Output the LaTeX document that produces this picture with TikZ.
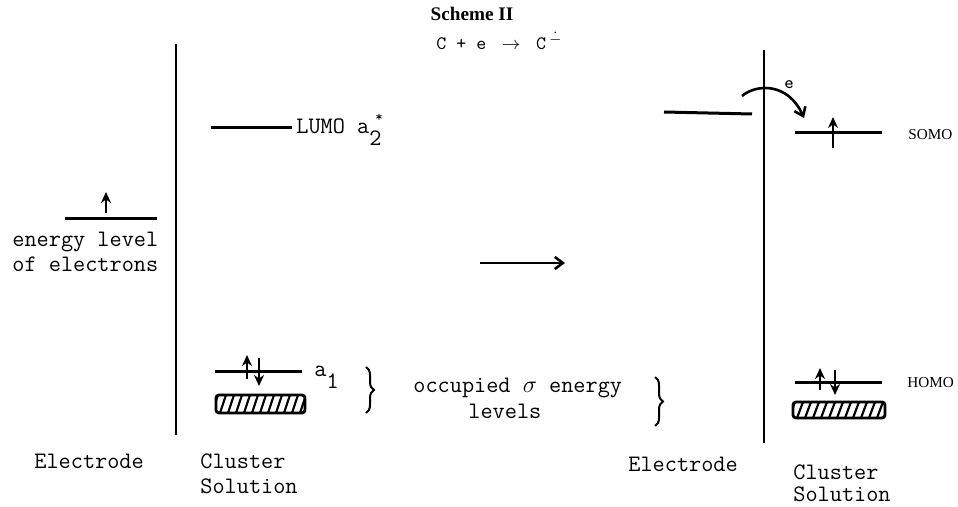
\documentclass[tikz,border=0pt]{standalone}
\usepackage{fontspec}
\setmainfont{Liberation Serif}
\usepackage{tikz}
\usetikzlibrary{arrows.meta, positioning, calc, decorations.pathreplacing}
\newcommand{\tyfont}{\fontsize{11.8}{12.5}\selectfont\ttfamily}
\tikzset{
  level/.style={line width=1.5pt},
  wall/.style={line width=1pt},
  spin/.style={-{Stealth[length=5.5pt,width=5pt]}, line width=1.3pt},
  arr/.style={-{Straight Barb[length=4pt,width=6pt]}, line width=1.3pt},
  bar/.style={line width=1.4pt, rounded corners=1.5pt},
  hatch/.style={line width=1.1pt},
  lbl/.style={font=\tyfont, inner sep=0pt, anchor=base west},
  orb/.style={font=\fontsize{7.6}{9}\selectfont, inner sep=0pt, anchor=base west},
  brc/.style={decorate, decoration={brace, amplitude=4pt}, line width=1pt},
}

\begin{document}
\begin{tikzpicture}[x=0.5pt, y=-0.5pt]
  \useasboundingbox (0,0) rectangle (958,507);

  % Title and reaction
  \node[font=\bfseries\fontsize{9.6}{11}\selectfont, inner sep=0pt] (title) at (472,14) {Scheme II};
  \node[font=\fontsize{9.5}{10}\selectfont\ttfamily, inner sep=0pt, anchor=base west] (eqn) at (436,50)
    {C~+~e~~\makebox[0.525em]{$\rightarrow$}~~C\rlap{\kern1.5pt\raisebox{3pt}{$\scriptstyle\dot{-}$}}};

  % Electrode / solution boundaries
  \coordinate (wallLt) at (176,44);  \coordinate (wallLb) at (176,435);
  \coordinate (wallRt) at (764,50);  \coordinate (wallRb) at (764,443);
  \draw[wall] (wallLt) -- (wallLb);
  \draw[wall] (wallRt) -- (wallRb);

  % Left: electrode level
  \coordinate (elecA) at (65,219); \coordinate (elecB) at (157,219);
  \draw[level] (elecA) -- (elecB);
  \draw[spin] (106,213) -- (106,192);
  \node[lbl] (elevelA) at (12,247) {energy level};
  \node[lbl] (elevelB) at (12,272) {of electrons};

  % Left: cluster levels
  \coordinate (lumoA) at (211,128); \coordinate (lumoB) at (292,128);
  \draw[level] (lumoA) -- (lumoB);
  \node[lbl] (lumo) at (296,134) {LUMO a\rlap{\kern3pt\raisebox{6pt}{\scriptsize *}}\raisebox{-6pt}{2}};

  \coordinate (aoneA) at (215,372); \coordinate (aoneB) at (302,372);
  \draw[level] (aoneA) -- (aoneB);
  \draw[spin] (247,379) -- (247,355);
  \draw[spin] (259,358) -- (259,386);
  \node[lbl] (aone) at (314,377) {a\raisebox{-6pt}{1}};

  \begin{scope}
    \clip[rounded corners=1.5pt] (216,395) rectangle (305,413);
    \foreach \i in {0,...,12} \draw[hatch] (212+\i*8,413) -- (218+\i*8,395);
  \end{scope}
  \draw[bar] (216,395) rectangle (305,413);

  \draw[brc] (366,367) -- (366,413);

  % Middle
  \coordinate (goA) at (480,263); \coordinate (goB) at (565,263);
  \draw[arr] (goA) -- (goB);
  \node[lbl] (occA) at (413,393) {occupied $\sigma$ energy};
  \node[lbl] (occB) at (468,418) {levels};
  \draw[brc] (655,377) -- (655,426);

  % Right: electrode level and transfer
  \coordinate (elecC) at (664,112); \coordinate (elecD) at (752,114);
  \draw[level] (elecC) -- (elecD);
  \coordinate (hopA) at (742,96); \coordinate (hopB) at (804,118);
  \draw[arr] (hopA) .. controls (756,84) and (788,82) .. (hopB);
  \node[font=\fontsize{9}{10}\selectfont\ttfamily, inner sep=0pt] (hope) at (789,85) {e};

  % Right: cluster levels
  \coordinate (somoA) at (795,133); \coordinate (somoB) at (882,133);
  \draw[level] (somoA) -- (somoB);
  \draw[spin] (833,148) -- (833,117);
  \node[orb] (somo) at (908,140) {SOMO};

  \coordinate (homoA) at (795,383); \coordinate (homoB) at (882,383);
  \draw[level] (homoA) -- (homoB);
  \draw[spin] (820,390) -- (820,368);
  \draw[spin] (835,370) -- (835,395);
  \node[orb] (homo) at (907,388) {HOMO};

  \begin{scope}
    \clip[rounded corners=1.5pt] (793,402) rectangle (885,418);
    \foreach \i in {0,...,12} \draw[hatch] (789+\i*8,418) -- (795+\i*8,402);
  \end{scope}
  \draw[bar] (793,402) rectangle (885,418);

  % Bottom labels
  \node[lbl] (elecl) at (34,468) {Electrode};
  \node[lbl] (clusLa) at (200,468) {Cluster};
  \node[lbl] (clusLb) at (200,493) {Solution};
  \node[lbl] (elecr) at (628,471) {Electrode};
  \node[lbl] (clusRa) at (793,479) {Cluster};
  \node[lbl] (clusRb) at (793,502) {Solution};
\end{tikzpicture}
\end{document}
